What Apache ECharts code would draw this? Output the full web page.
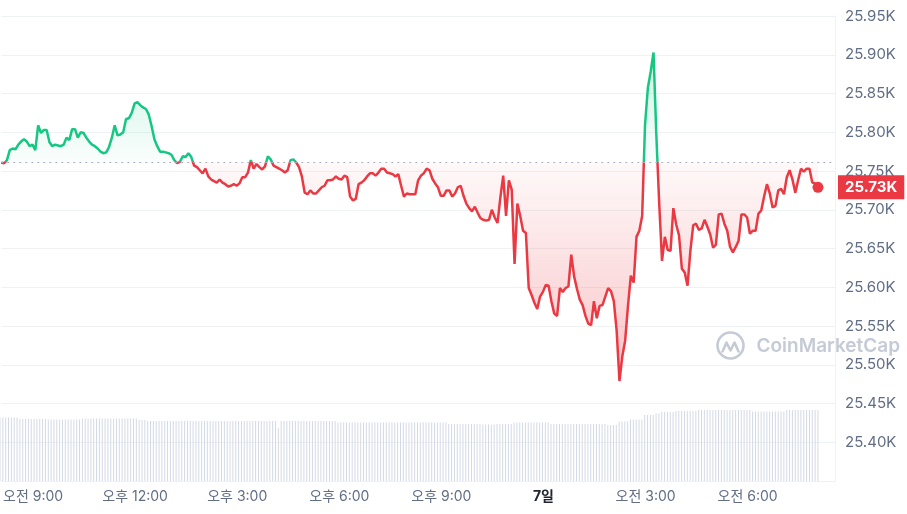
<!DOCTYPE html>
<html>
<head>
<meta charset="utf-8">
<script src="https://cdn.jsdelivr.net/npm/echarts@6/dist/echarts.min.js"></script>
<style>
html,body{margin:0;padding:0;background:#fff;}
#c{width:907px;height:514px;}
</style>
</head>
<body>
<div id="c"></div>
<script>
// ---- data ----
const startHour = 8 + 4 / 60;   // first sample: 6th, 08:04
const stepMinutes = 5;
const prices = [
  25761,25760,25764,25777,25779,25778,25784,25788,25791,25788,25782,25784,
  25777,25809,25799,25803,25803,25787,25782,25784,25783,25782,25784,25793,
  25790,25804,25804,25793,25800,25799,25793,25788,25784,25782,25779,25775,
  25773,25774,25781,25793,25809,25796,25797,25800,25817,25818,25825,25837,
  25839,25835,25832,25830,25823,25808,25791,25782,25775,25775,25774,25773,
  25771,25764,25760,25762,25769,25768,25773,25768,25757,25755,25751,25747,
  25753,25743,25739,25737,25735,25739,25735,25733,25730,25731,25733,25731,
  25734,25742,25742,25748,25764,25753,25759,25755,25752,25756,25769,25765,
  25757,25755,25753,25751,25748,25751,25764,25765,25761,25755,25743,25722,
  25720,25725,25721,25721,25725,25729,25731,25738,25738,25739,25743,25740,
  25739,25744,25742,25717,25712,25714,25733,25735,25738,25743,25747,25747,
  25744,25748,25753,25753,25748,25747,25746,25743,25746,25731,25717,25721,
  25720,25720,25720,25738,25744,25747,25753,25751,25740,25734,25729,25718,
  25718,25725,25725,25717,25721,25729,25731,25718,25708,25702,25698,25704,
  25696,25689,25687,25686,25687,25700,25690,25683,25716,25744,25692,25738,
  25726,25630,25708,25692,25673,25670,25599,25590,25580,25572,25588,25594,
  25603,25602,25582,25566,25563,25599,25594,25599,25601,25642,25614,25598,
  25584,25577,25563,25553,25551,25582,25560,25576,25577,25588,25599,25595,
  25582,25544,25479,25511,25531,25576,25615,25606,25665,25673,25692,25809,
  25857,25878,25903,25796,25709,25634,25665,25648,25647,25702,25681,25667,
  25624,25619,25602,25647,25680,25682,25674,25676,25687,25678,25668,25651,
  25655,25694,25695,25682,25673,25652,25645,25652,25660,25694,25694,25690,
  25669,25673,25673,25695,25699,25717,25733,25721,25703,25705,25725,25727,
  25720,25742,25751,25739,25722,25738,25753,25749,25753,25753,25735,25734,
  25729
];
const volumes = [
  31.7,31.7,31.7,31.7,31.7,31.7,31.7,31.0,31.0,31.0,31.0,31.0,
  31.0,31.0,31.0,31.0,31.0,30.8,30.8,30.8,30.8,30.8,30.8,30.8,
  30.8,30.8,30.8,30.8,30.8,31.2,31.2,31.2,31.2,31.2,31.2,31.2,
  31.2,31.2,31.3,31.3,31.3,31.3,31.3,31.3,31.3,31.3,31.3,31.3,
  31.3,30.5,30.5,30.5,30.0,30.0,30.0,30.0,30.0,30.0,30.0,30.0,
  30.0,30.0,30.0,30.0,30.0,30.0,30.0,30.0,30.0,30.0,30.0,30.0,
  30.0,30.0,30.0,30.0,30.0,30.0,30.0,30.0,30.0,30.0,30.0,30.0,
  30.0,30.0,30.0,30.0,30.0,30.0,30.0,30.0,30.0,30.0,30.0,30.0,
  30.0,30.0,26.5,30.0,30.0,30.0,30.0,30.0,30.0,30.0,30.0,30.0,
  30.0,30.0,30.0,30.0,30.0,30.0,30.0,30.0,30.0,30.0,30.0,29.3,
  29.3,29.3,29.3,29.3,29.3,29.3,29.3,29.3,29.3,29.3,29.3,29.3,
  29.3,29.3,29.3,29.3,29.3,29.3,29.3,29.3,29.3,29.3,29.3,29.3,
  29.3,29.3,29.3,29.3,29.3,29.3,29.3,29.3,29.3,29.3,29.3,29.3,
  29.3,29.3,28.5,28.5,28.5,28.5,28.5,28.5,28.5,28.5,28.5,28.5,
  28.5,28.5,28.2,28.2,28.2,28.2,28.2,28.5,28.5,28.5,28.5,28.5,
  28.5,29.2,29.2,29.2,29.2,29.2,29.2,29.2,29.2,29.2,29.2,29.2,
  29.2,29.2,28.5,28.5,28.5,28.5,28.5,28.5,28.5,28.5,28.5,28.5,
  28.5,28.5,28.5,28.5,28.5,28.5,28.5,28.5,28.5,28.5,28.0,28.0,
  28.0,28.0,29.8,29.8,29.8,29.8,30.7,30.7,30.7,30.7,30.7,33.0,
  33.0,33.0,33.0,33.8,33.8,34.5,34.5,34.5,34.5,34.5,35.0,35.0,
  35.0,35.0,35.0,35.0,35.0,35.0,35.5,35.5,35.5,35.5,35.5,35.5,
  35.5,35.5,35.5,35.5,35.5,35.5,35.5,35.5,35.5,35.5,35.5,35.5,
  35.5,34.8,34.8,34.8,34.8,34.8,34.8,34.8,34.8,34.8,34.8,34.8,
  34.8,35.5,35.5,35.5,35.5,35.5,35.5,35.5,35.5,35.5,35.5,35.5,
  35.5
];
const xTickHours = [9, 12, 15, 18, 21, 24, 27, 30];
const xTickLabels = ['오전 9:00', '오후 12:00', '오후 3:00', '오후 6:00', '오후 9:00', '7일', '오전 3:00', '오전 6:00'];
const boldTick = '7일';
const yMin = 25350, yMax = 25950, yStep = 50;
const volMax = 40;

// ---- style ----
const GREEN = '#16c784';
const RED = '#ea3943';
const GRIDC = '#eff2f5';
const LABELC = '#616e85';
const FONT = 'Inter, "Noto Sans CJK KR", "Noto Sans", sans-serif';

const times = prices.map((_, i) => startHour + i * stepMinutes / 60);
const xMax = startHour + 24.5;
const base = prices[0];
const lastIdx = prices.length - 1;
const last = prices[lastIdx];
const priceData = prices.map((p, i) => [times[i], p]);
const volData = volumes.map((v, i) => [times[i], v]);

function fmtK(v) { return (v / 1000).toFixed(2) + 'K'; }
function xFmt(v) {
  for (let k = 0; k < xTickHours.length; k++) {
    if (Math.abs(xTickHours[k] - v) < 1e-6) {
      const s = xTickLabels[k];
      return s === boldTick ? '{b|' + s + '}' : s;
    }
  }
  return '';
}

const chart = echarts.init(document.getElementById('c'), null, { renderer: 'canvas' });

function buildOption(lineColor, areaColor) {
  return {
    animation: false,
    textStyle: { fontFamily: FONT },
    grid: [
      { left: 0, right: 72, top: 16, bottom: 33 },
      { left: 0, right: 72, top: 401, bottom: 33 }
    ],
    xAxis: [
      {
        type: 'value', gridIndex: 0, min: startHour, max: xMax,
        splitLine: { show: false },
        axisTick: { show: false },
        axisLine: { show: true, lineStyle: { color: GRIDC } },
        axisLabel: {
          customValues: xTickHours,
          formatter: xFmt,
          margin: 9,
          color: LABELC,
          fontSize: 14,
          fontFamily: FONT,
          rich: { b: { fontWeight: 'bold', color: '#222531', fontSize: 14, fontFamily: FONT } }
        }
      },
      { type: 'value', gridIndex: 1, min: startHour, max: xMax, show: false }
    ],
    yAxis: [
      {
        type: 'value', gridIndex: 0, position: 'right',
        min: yMin, max: yMax, interval: yStep,
        splitLine: { show: true, lineStyle: { color: GRIDC, width: 1 } },
        axisLine: { show: true, lineStyle: { color: GRIDC } },
        axisTick: { show: false },
        axisLabel: {
          showMinLabel: false,
          formatter: fmtK,
          margin: 10,
          color: LABELC,
          fontSize: 15,
          fontFamily: FONT
        }
      },
      { type: 'value', gridIndex: 1, min: 0, max: volMax, show: false }
    ],
    series: [
      {
        type: 'bar', xAxisIndex: 1, yAxisIndex: 1,
        data: volData, barWidth: 1, silent: true,
        itemStyle: { color: '#d3d9e4' }
      },
      {
        type: 'line', xAxisIndex: 0, yAxisIndex: 0,
        data: priceData, showSymbol: false, symbol: 'none',
        lineStyle: { width: 2.5, color: lineColor },
        itemStyle: { color: RED },
        areaStyle: { origin: base, color: areaColor, opacity: 1 },
        z: 3,
        markLine: {
          silent: true, symbol: 'none', animation: false,
          data: [
            { yAxis: base, lineStyle: { type: [2, 4], color: '#a6b0c3', width: 1 }, label: { show: false } },
            {
              yAxis: last, lineStyle: { color: 'rgba(0,0,0,0)', width: 0 },
              label: {
                show: true, position: 'end', distance: 3,
                formatter: () => fmtK(last),
                backgroundColor: RED, color: '#fff',
                fontSize: 15, fontWeight: 'bold', fontFamily: FONT,
                padding: [5, 7, 4, 7]
              }
            }
          ]
        }
      },
      {
        type: 'scatter', xAxisIndex: 0, yAxisIndex: 0,
        data: [[times[lastIdx], last]], symbolSize: 11,
        itemStyle: { color: RED, opacity: 1 }, z: 5, silent: true
      }
    ],
    graphic: [{
      type: 'group', left: 715, top: 330, z: 10, silent: true,
      children: [
        { type: 'circle', shape: { cx: 15, cy: 15, r: 13 }, style: { fill: 'none', stroke: '#c5cbd6', lineWidth: 2.6 } },
        { type: 'polyline', shape: { points: [[7, 21], [11, 12], [15, 20], [19, 12], [23, 21]] },
          style: { fill: 'none', stroke: '#c5cbd6', lineWidth: 2.6, lineJoin: 'round', lineCap: 'round' } },
        { type: 'text', x: 41, y: 16,
          style: { text: 'CoinMarketCap', font: '600 19px Inter, sans-serif', fill: '#c5cbd6', textVerticalAlign: 'middle' } }
      ]
    }]
  };
}

// first pass to learn the pixel geometry of the value scale
chart.setOption(buildOption(RED, 'rgba(0,0,0,0)'));
const yb = chart.convertToPixel({ gridIndex: 0 }, [startHour, base])[1];
const yTop = chart.convertToPixel({ gridIndex: 0 }, [startHour, Math.max.apply(null, prices)])[1] - 2;
const yBot = chart.convertToPixel({ gridIndex: 0 }, [startHour, Math.min.apply(null, prices)])[1] + 2;
const off = (yb - yTop) / (yBot - yTop);
const lineGrad = new echarts.graphic.LinearGradient(0, yTop, 0, yBot, [
  { offset: 0, color: GREEN },
  { offset: off, color: GREEN },
  { offset: off, color: RED },
  { offset: 1, color: RED }
], true);
const areaGrad = new echarts.graphic.LinearGradient(0, yTop, 0, yBot, [
  { offset: 0, color: 'rgba(22,199,132,0.22)' },
  { offset: off, color: 'rgba(22,199,132,0.02)' },
  { offset: off, color: 'rgba(234,57,67,0.03)' },
  { offset: 1, color: 'rgba(234,57,67,0.30)' }
], true);
chart.setOption(buildOption(lineGrad, areaGrad), true);
</script>
</body>
</html>
